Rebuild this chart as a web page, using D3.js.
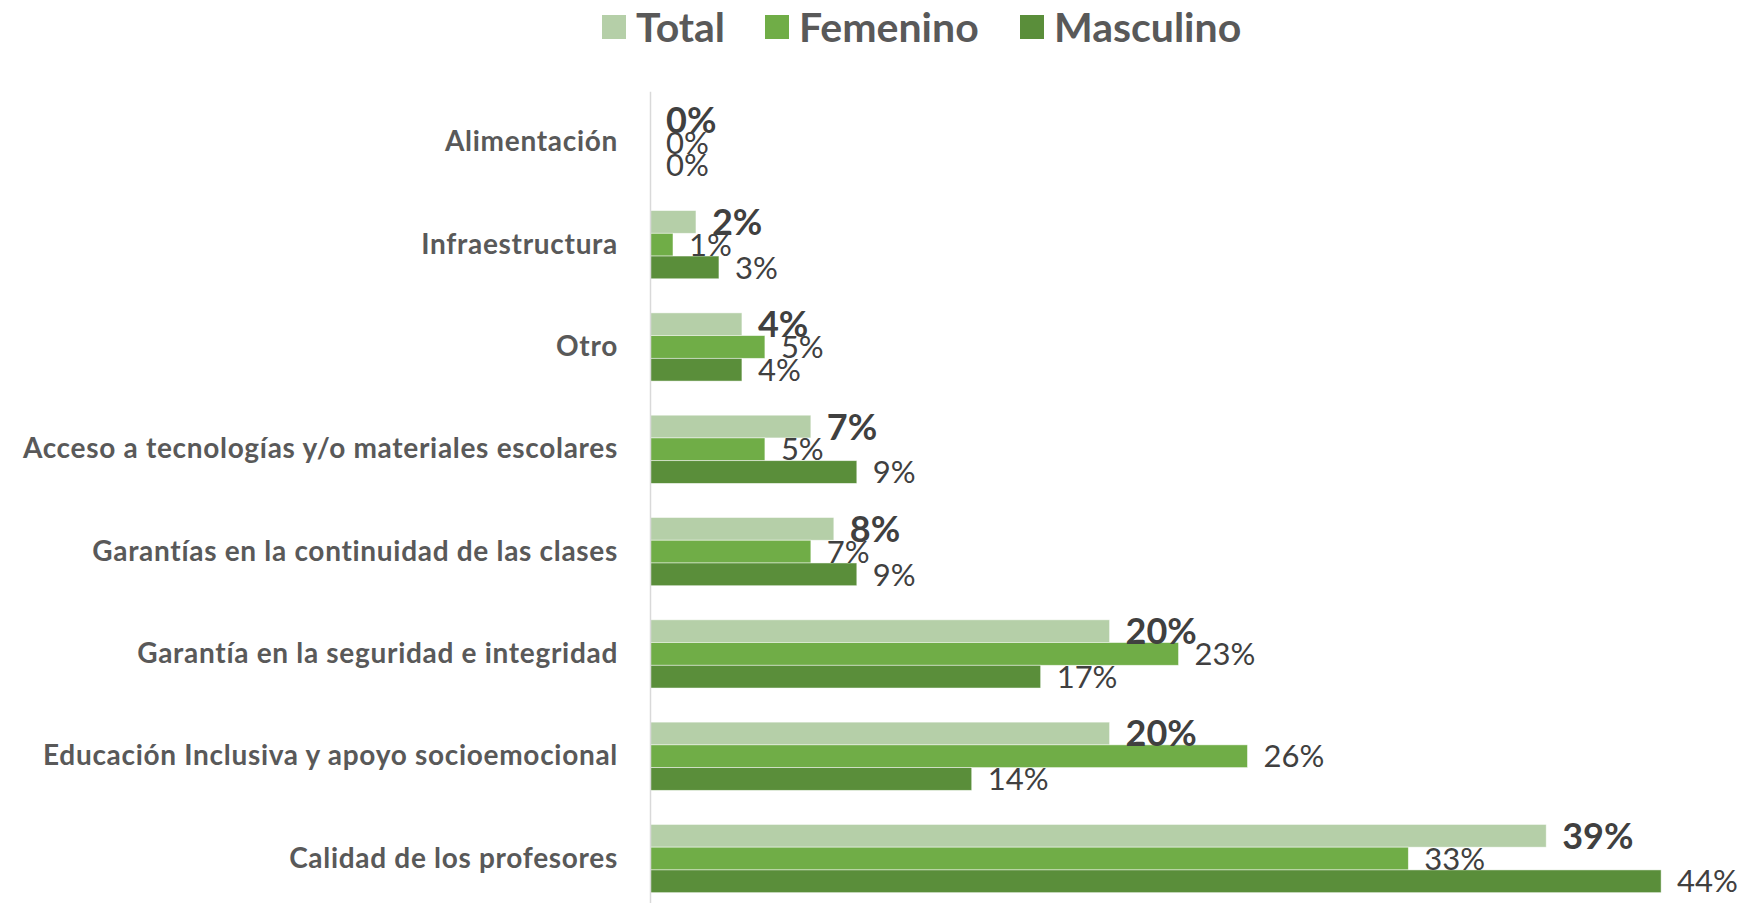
<!DOCTYPE html>
<html>
<head>
<meta charset="utf-8">
<script src="https://cdn.jsdelivr.net/npm/d3@7"></script>
<style>
  body { margin: 0; background: #fff; }
  svg { display: block; font-family: Lato, "Open Sans", sans-serif; }
</style>
</head>
<body>
<div id="chart"></div>
<script>
const categories = [
  "Alimentación",
  "Infraestructura",
  "Otro",
  "Acceso a tecnologías y/o materiales escolares",
  "Garantías en la continuidad de las clases",
  "Garantía en la seguridad e integridad",
  "Educación Inclusiva y apoyo socioemocional",
  "Calidad de los profesores"
];
const seriesNames = ["Total", "Femenino", "Masculino"];
const total     = [0, 2, 4, 7, 8, 20, 20, 39];
const femenino  = [0, 1, 5, 5, 7, 23, 26, 33];
const masculino = [0, 3, 4, 9, 9, 17, 14, 44];
const colors = ["#b5cfa8", "#70ad47", "#5a8e3a"];

const values = [total, femenino, masculino];
const data = categories.map((c, i) => ({
  cat: c,
  vals: seriesNames.map((s, j) => ({ key: s, idx: j, value: values[j][i] }))
}));

const W = 1744, H = 903;
const axisX = 650;

const svg = d3.select("#chart")
  .append("svg")
    .attr("width", W)
    .attr("height", H);

// scales
const x = d3.scaleLinear()
  .domain([0, 45])
  .range([axisX, axisX + 45 * 22.98]);

const y0 = d3.scaleBand()
  .domain(categories)
  .range([91.2, 909.7])
  .paddingInner(1 / 3)
  .paddingOuter(1 / 6);

const y1 = d3.scaleBand()
  .domain(seriesNames)
  .range([0, y0.bandwidth()]);

// bars
const groups = svg.selectAll("g.cat")
  .data(data)
  .join("g")
    .attr("class", "cat")
    .attr("transform", d => `translate(0, ${y0(d.cat)})`);

groups.selectAll("rect")
  .data(d => d.vals)
  .join("rect")
    .attr("x", x(0))
    .attr("y", d => y1(d.key))
    .attr("width", d => x(d.value) - x(0))
    .attr("height", y1.bandwidth())
    .attr("fill", d => colors[d.idx])
    .attr("stroke", "#fff")
    .attr("stroke-width", 0.8)
    .attr("stroke-opacity", 0.6);

// value labels
groups.selectAll("text.val")
  .data(d => d.vals)
  .join("text")
    .attr("class", "val")
    .attr("x", d => x(d.value) + 16)
    .attr("y", d => y1(d.key) + y1.bandwidth() / 2)
    .attr("dy", "0.36em")
    .attr("fill", "#404040")
    .style("font-size", d => d.idx === 0 ? "36px" : "31px")
    .style("font-weight", d => d.idx === 0 ? "bold" : "normal")
    .text(d => d.value + "%");

// y axis
const yAxis = svg.append("g")
  .attr("transform", `translate(${axisX}, 0)`)
  .call(d3.axisLeft(y0).tickSize(0).tickPadding(32));
yAxis.select(".domain")
  .attr("stroke", "#d9d9d9")
  .attr("stroke-width", 1.5);
yAxis.selectAll(".tick text")
  .attr("fill", "#595959")
  .style("font-family", "Lato, sans-serif")
  .style("font-size", "28px")
  .style("letter-spacing", "0.7px")
  .style("font-weight", "bold");

// legend
const legendX = [602, 765, 1020];
const legend = svg.append("g")
  .selectAll("g")
  .data(seriesNames)
  .join("g")
    .attr("transform", (d, i) => `translate(${legendX[i]}, 27)`);
legend.append("rect")
  .attr("x", 0)
  .attr("y", -12)
  .attr("width", 24)
  .attr("height", 24)
  .attr("fill", (d, i) => colors[i]);
legend.append("text")
  .attr("x", 34)
  .attr("dy", "0.36em")
  .attr("fill", "#595959")
  .style("font-size", "41px")
  .style("font-weight", "bold")
  .text(d => d);
</script>
</body>
</html>
